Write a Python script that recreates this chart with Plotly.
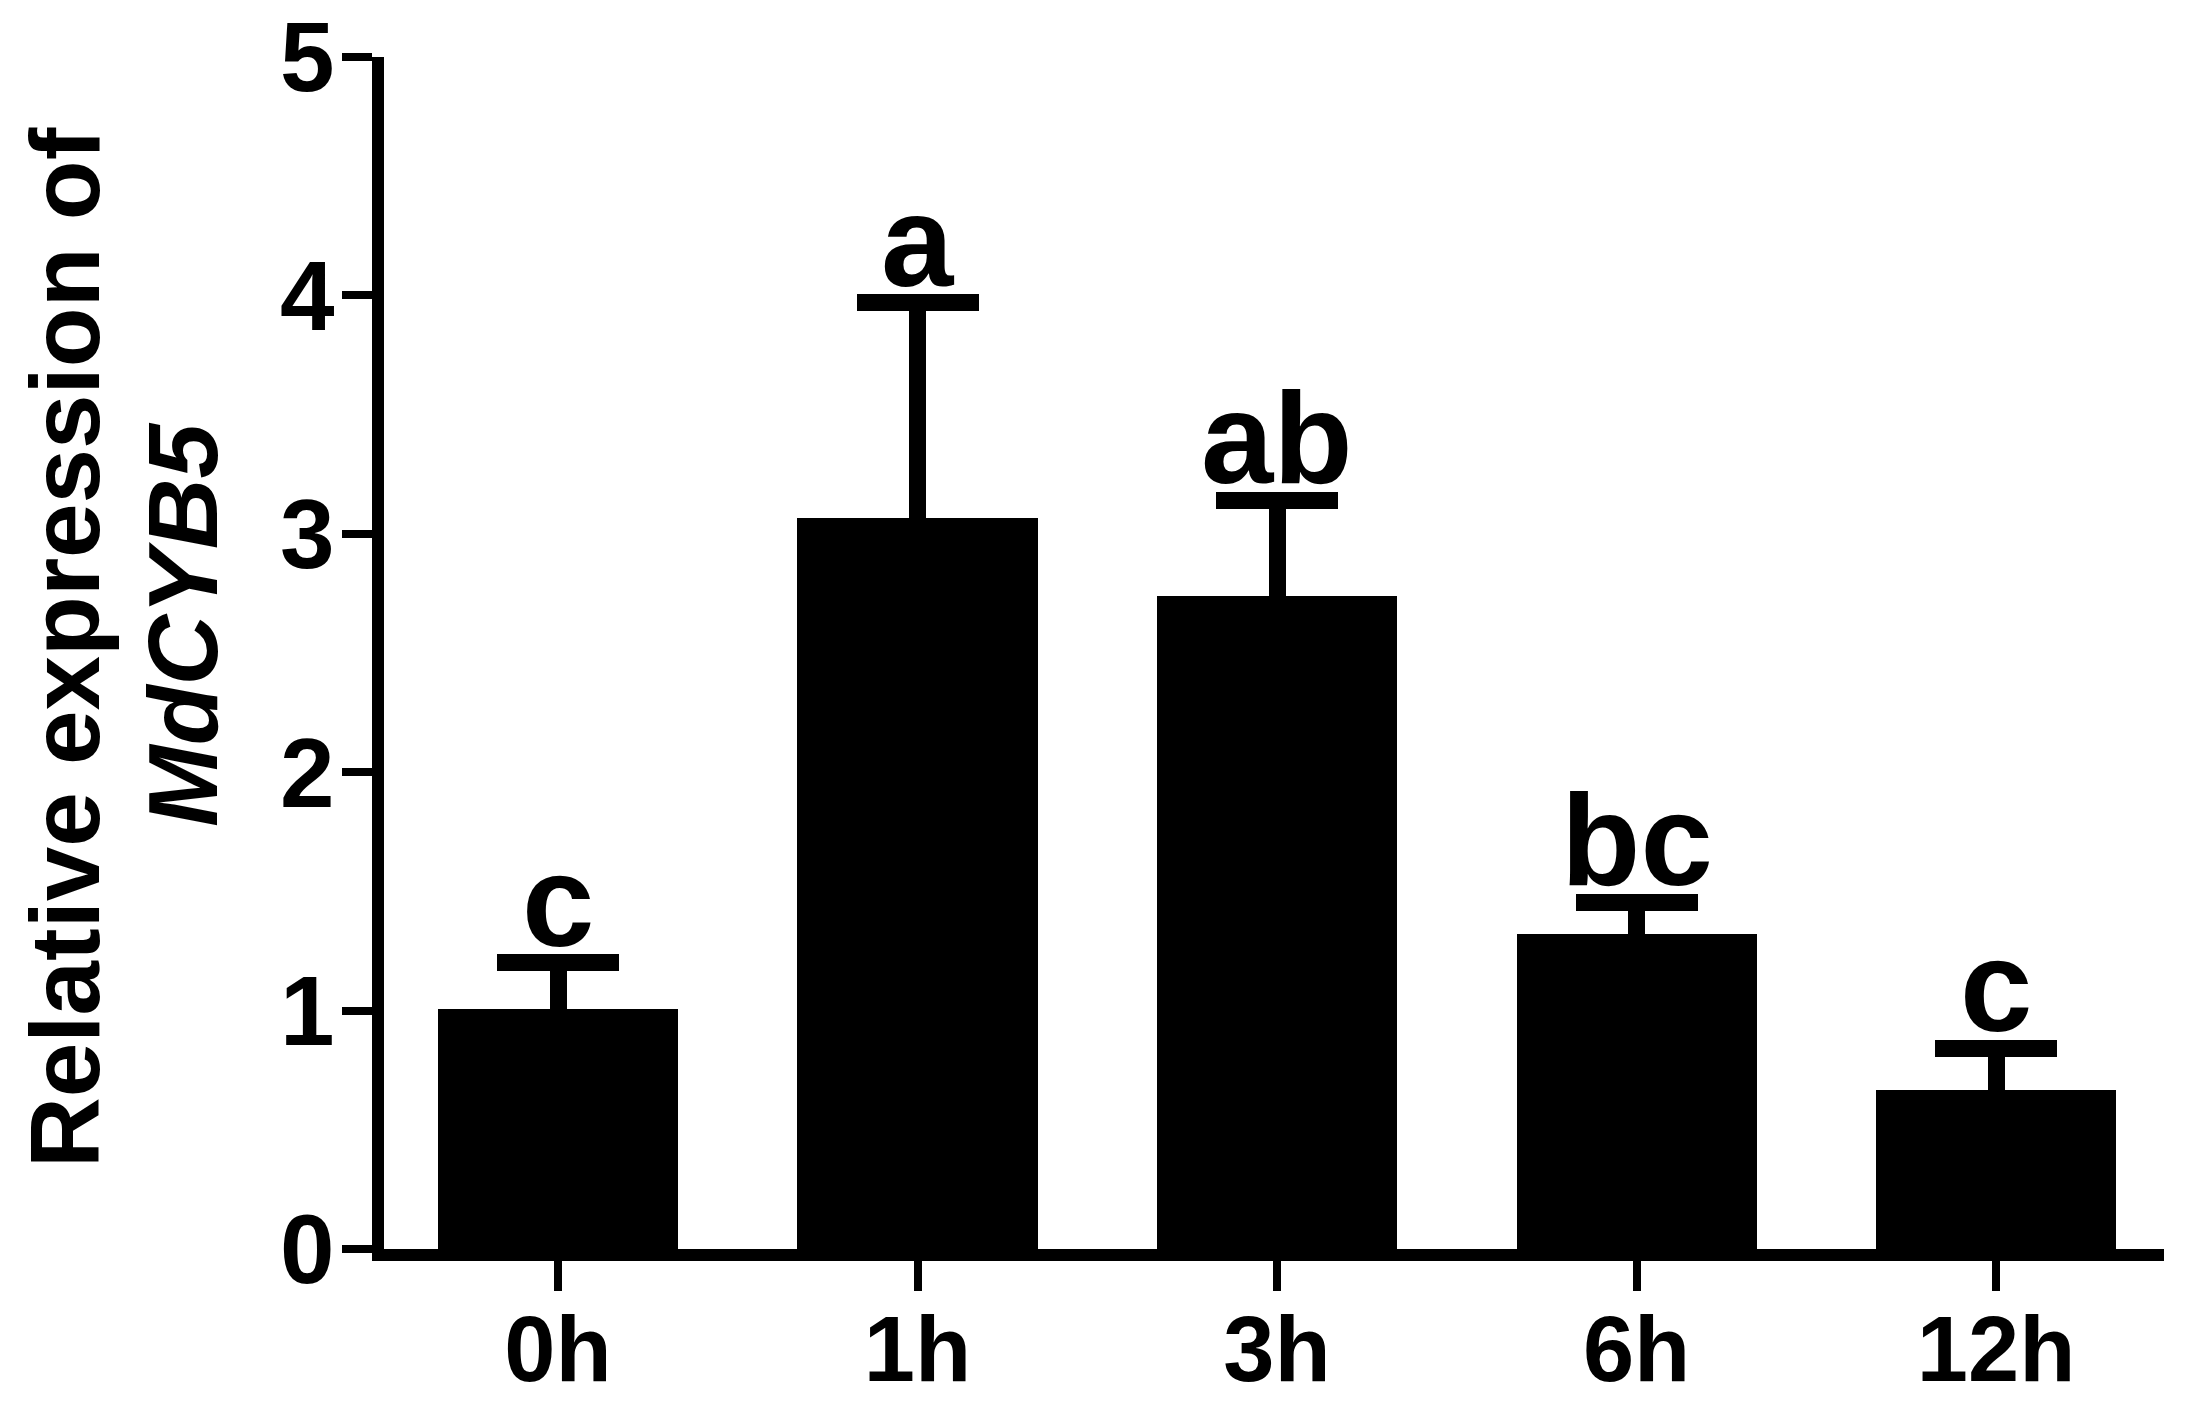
import plotly.graph_objects as go

categories = ["0h", "1h", "3h", "6h", "12h"]
means = [1.005, 3.065, 2.74, 1.32, 0.668]
errors = [0.195, 0.905, 0.40, 0.135, 0.175]
letters = ["c", "a", "ab", "bc", "c"]
y_ticks = [0, 1, 2, 3, 4, 5]

W, H = 2204, 1411
L, R, T, B = 376, 48, 49, 170
PW = W - L - R
PH = H - T - B

FONT = "Arial, 'Liberation Sans', sans-serif"
xpos = list(range(len(categories)))

fig = go.Figure()
fig.add_trace(go.Bar(
    x=xpos, y=means, width=0.668,
    marker=dict(color="black", line=dict(width=0)),
    error_y=dict(type="data", symmetric=True, array=errors,
                 color="black", thickness=17, width=61),
    showlegend=False,
))

for xi, m, e, t in zip(xpos, means, errors, letters):
    fig.add_annotation(x=xi, y=m + e, text=t, showarrow=False,
                       xanchor="center", yanchor="bottom", yshift=-12,
                       borderpad=0,
                       font=dict(family=FONT, size=130, color="black", weight="bold"))

# y-axis title, two lines placed separately
def py(pix):
    return (H - B - pix) / PH

fig.add_annotation(xref="paper", yref="paper",
                   x=(57 - L) / PW, y=py(640),
                   text="Relative expression of",
                   textangle=-90, showarrow=False,
                   xanchor="center", yanchor="middle",
                   font=dict(family=FONT, size=98, color="black", weight="bold"))
fig.add_annotation(xref="paper", yref="paper",
                   x=(175 - L) / PW, y=py(617),
                   text="<i>MdCYB5</i>",
                   textangle=-90, showarrow=False,
                   xanchor="center", yanchor="middle",
                   font=dict(family=FONT, size=98, color="black", weight="bold"))

axis_common = dict(showline=True, linewidth=12, linecolor="black",
                   ticks="outside", ticklen=30, tickwidth=8, tickcolor="black",
                   showgrid=False, zeroline=False, automargin=False,
                   ticklabeloverflow="allow")

fig.update_xaxes(range=[-0.484, 4.467], tickvals=xpos, ticktext=categories,
                 ticklabelstandoff=-20,
                 tickfont=dict(family=FONT, size=92, color="black", weight="bold"),
                 **axis_common)
fig.update_yaxes(range=[0, 5], tickvals=y_ticks, ticklabelstandoff=-12,
                 tickfont=dict(family=FONT, size=98, color="black", weight="bold"),
                 **axis_common)

fig.update_layout(width=W, height=H,
                  margin=dict(l=L, r=R, t=T, b=B, pad=0),
                  plot_bgcolor="white", paper_bgcolor="white",
                  bargap=0)

fig.write_html("out.html")
